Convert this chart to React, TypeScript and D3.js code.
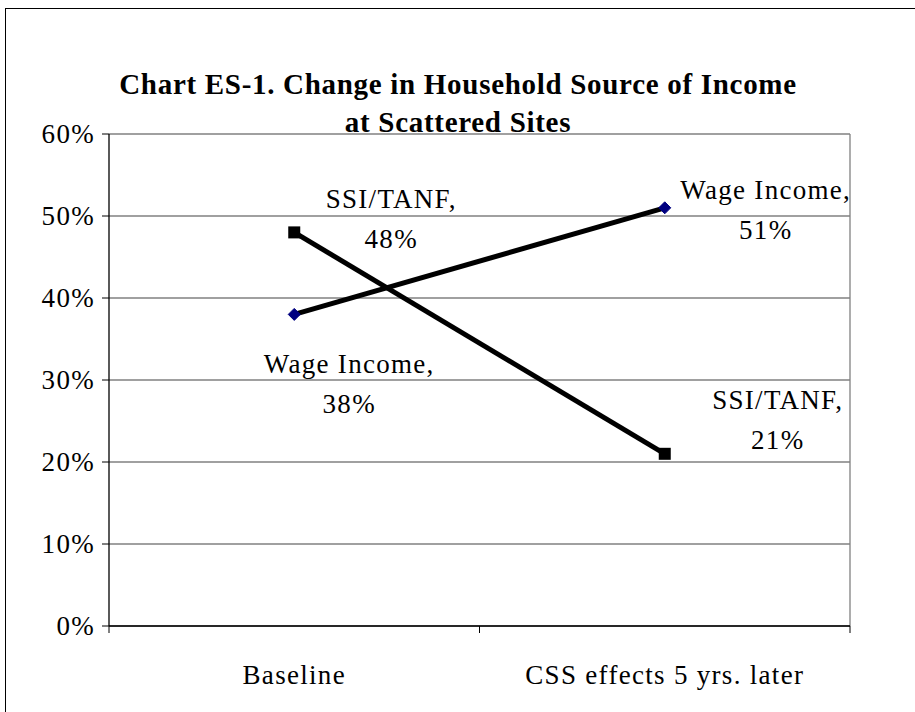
import React from "react";
import * as d3 from "d3";

const categories = ["Baseline", "CSS effects 5 yrs. later"];
const ssiTanf = [48, 21];
const wageIncome = [38, 51];
const yTicks = [0, 10, 20, 30, 40, 50, 60];
const titleLines = ["Chart ES-1. Change in Household Source of Income", "at Scattered Sites"];

const FONT = "Liberation Serif";

export default function App() {
  const width = 915;
  const height = 712;
  const margin = { top: 134, right: 65, bottom: 86, left: 109 };
  const plotW = width - margin.left - margin.right;
  const plotH = height - margin.top - margin.bottom;

  const x = d3.scaleBand<string>().domain(categories).range([0, plotW]).padding(0);
  const y = d3.scaleLinear().domain([0, 60]).range([plotH, 0]);
  const cx = (c: string) => (x(c) || 0) + x.bandwidth() / 2;

  const line = d3.line<number>().x((_, i) => cx(categories[i])).y(d => y(d));

  // label placements (first line baseline), relative to each point
  const ssiLabels = [
    { dx: 97, dy: -24 },
    { dx: 113, dy: -45 },
  ];
  const wageLabels = [
    { dx: 55, dy: 59 },
    { dx: 101, dy: -9 },
  ];

  const lbl = { fontFamily: FONT, fontSize: 27, letterSpacing: 1.3 };

  return (
    <svg width={width} height={height} style={{ position: "absolute", left: 0, top: 0, background: "#fff" }}>
      {/* outer frame */}
      <rect x={5.5} y={8.5} width={width + 10} height={height + 10} fill="none" stroke="#000" strokeWidth={1} />

      {titleLines.map((t, i) => (
        <text key={i} x={458} y={94 + i * 38} textAnchor="middle" fontSize={29} fontWeight="bold"
          letterSpacing={0.7} fontFamily={FONT}>{t}</text>
      ))}

      <g transform={`translate(${margin.left},${margin.top})`}>
        {yTicks.map(t => (
          <g key={t}>
            <line x1={0} x2={plotW} y1={y(t)} y2={y(t)} stroke="#808080" strokeWidth={1.3} />
            <line x1={-7} x2={0} y1={y(t)} y2={y(t)} stroke="#000" />
            <text x={-14} y={y(t) + 9} textAnchor="end" style={lbl}>{t}%</text>
          </g>
        ))}
        <line x1={plotW} x2={plotW} y1={0} y2={plotH} stroke="#808080" strokeWidth={1.3} />
        <line x1={0} x2={0} y1={0} y2={plotH} stroke="#000" strokeWidth={1.3} />
        <line x1={0} x2={plotW} y1={plotH} y2={plotH} stroke="#000" strokeWidth={1.3} />
        {[0, 1, 2].map(i => (
          <line key={i} x1={(plotW / 2) * i} x2={(plotW / 2) * i} y1={plotH} y2={plotH + 7} stroke="#000" />
        ))}
        {categories.map(c => (
          <text key={c} x={cx(c)} y={plotH + 58} textAnchor="middle" style={lbl}>{c}</text>
        ))}

        <path d={line(wageIncome) || ""} fill="none" stroke="#000" strokeWidth={5} />
        <path d={line(ssiTanf) || ""} fill="none" stroke="#000" strokeWidth={5} />

        {ssiTanf.map((v, i) => (
          <rect key={i} x={cx(categories[i]) - 6} y={y(v) - 6} width={12} height={12} fill="#000" />
        ))}
        {wageIncome.map((v, i) => {
          const px = cx(categories[i]);
          const py = y(v);
          return (
            <path key={i} d={`M${px},${py - 6}L${px + 6},${py}L${px},${py + 6}L${px - 6},${py}Z`}
              fill="#000080" stroke="#000080" />
          );
        })}

        {ssiTanf.map((v, i) => {
          const px = cx(categories[i]) + ssiLabels[i].dx;
          const py = y(v) + ssiLabels[i].dy;
          return (
            <g key={i}>
              <text x={px} y={py} textAnchor="middle" style={lbl}>SSI/TANF,</text>
              <text x={px} y={py + 40} textAnchor="middle" style={lbl}>{v}%</text>
            </g>
          );
        })}
        {wageIncome.map((v, i) => {
          const px = cx(categories[i]) + wageLabels[i].dx;
          const py = y(v) + wageLabels[i].dy;
          return (
            <g key={i}>
              <text x={px} y={py} textAnchor="middle" style={lbl}>Wage Income,</text>
              <text x={px} y={py + 40} textAnchor="middle" style={lbl}>{v}%</text>
            </g>
          );
        })}
      </g>
    </svg>
  );
}
